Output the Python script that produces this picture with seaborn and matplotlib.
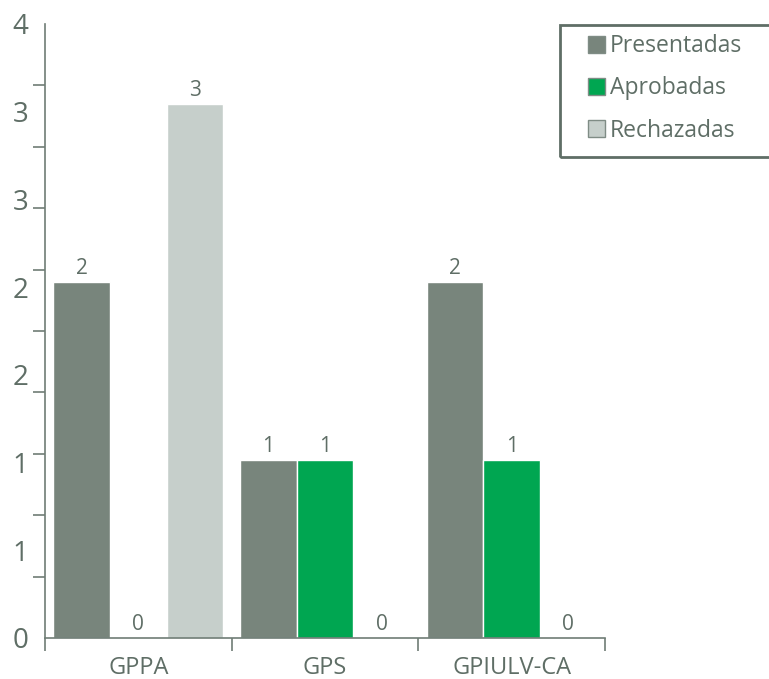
import matplotlib.pyplot as plt
import matplotlib.ticker as mticker
from matplotlib.patches import Patch, Rectangle
import numpy as np
import pandas as pd
import seaborn as sns

grupos = ["GPPA", "GPS", "GPIULV-CA"]
series = ["Presentadas", "Aprobadas", "Rechazadas"]
presentadas = [2, 1, 2]
aprobadas = [0, 1, 1]
rechazadas = [3, 0, 0]
etiquetas_y = ["0", "1", "1", "2", "2", "3", "3", "4"]
colores = ["#78857c", "#00a651", "#c6cfcb"]

txt = "#5f6e66"
eje = "#6f7d76"
ymax = 3.45
W, H = 769, 679

df = pd.DataFrame({
    "grupo": grupos * 3,
    "serie": [s for s in series for _ in grupos],
    "valor": presentadas + aprobadas + rechazadas,
})

sns.set_style("white")
plt.rcParams["font.family"] = ["Open Sans", "DejaVu Sans"]

fig = plt.figure(figsize=(W / 100, H / 100), dpi=100)
ax = fig.add_axes([45 / W, 1 - 638 / H, 560 / W, 614 / H])

sns.barplot(data=df, x="grupo", y="valor", hue="serie", hue_order=series,
            palette=colores, width=0.91, saturation=1, legend=False, ax=ax)

for c in ax.containers:
    ax.bar_label(c, padding=2, fontsize=15, color=txt)

ax.set_xlim(-0.5, 2.5)
ax.set_ylim(0, ymax)
ax.set_xlabel("")
ax.set_ylabel("")

# labels and tick marks do not line up in the original
ax.yaxis.set_major_locator(mticker.FixedLocator(np.linspace(0, ymax, len(etiquetas_y))))
ax.yaxis.set_major_formatter(mticker.FixedFormatter(etiquetas_y))
ax.yaxis.set_minor_locator(mticker.FixedLocator(np.linspace(0, ymax, 11)))
ax.tick_params(axis="y", which="major", length=0, pad=12, labelsize=20, labelcolor=txt)
ax.tick_params(axis="y", which="minor", length=9, width=1.2, color=eje, direction="out", left=True)

ax.xaxis.set_minor_locator(mticker.FixedLocator([-0.5, 0.5, 1.5, 2.5]))
ax.tick_params(axis="x", which="major", length=0, pad=13, labelsize=17, labelcolor=txt)
ax.tick_params(axis="x", which="minor", length=9, width=1.2, color=eje, direction="out", bottom=True)

for s in ["top", "right"]:
    ax.spines[s].set_visible(False)
for s in ["left", "bottom"]:
    ax.spines[s].set_color(eje)
    ax.spines[s].set_linewidth(1.2)

handles = [Patch(facecolor=c, edgecolor="#7f8c85", linewidth=1) for c in colores]
fig.legend(handles, series, loc="upper left", bbox_to_anchor=(579 / W, 1 - 25 / H),
           frameon=False, fontsize=16.5, labelcolor=txt,
           handlelength=0.75, handleheight=0.75, handletextpad=0.2,
           labelspacing=0.8, borderpad=0.4, borderaxespad=0)
# legend box runs past the right edge in the original
fig.patches.append(Rectangle((560 / W, 1 - 157 / H), 215 / W, 132 / H,
                             transform=fig.transFigure, fill=False,
                             edgecolor="#5f6e66", linewidth=2))

fig.savefig("out.png", dpi=100)
